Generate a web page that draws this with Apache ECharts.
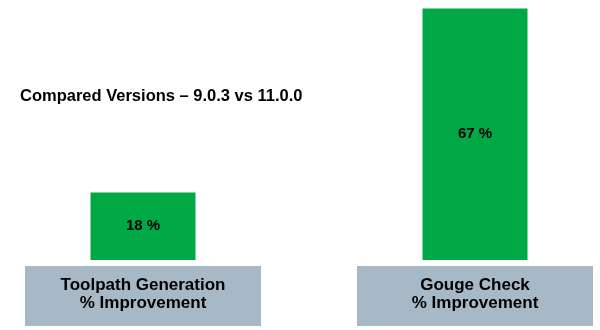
<!DOCTYPE html>
<html>
<head>
<meta charset="utf-8">
<script src="https://cdn.jsdelivr.net/npm/echarts@6/dist/echarts.min.js"></script>
<style>
  html, body { margin: 0; padding: 0; background: #fff; }
  #chart { width: 600px; height: 330px; }
</style>
</head>
<body>
<div id="chart"></div>
<script>
const titleText = 'Compared Versions \u2013 9.0.3 vs 11.0.0';
const categories = ['Toolpath Generation\n% Improvement', 'Gouge Check\n% Improvement'];
const improvement = [18, 67];

const FONT = '"Liberation Sans", Arial, sans-serif';
const chart = echarts.init(document.getElementById('chart'), null, { renderer: 'canvas' });
chart.setOption({
  animation: false,
  backgroundColor: '#ffffff',
  title: {
    text: titleText,
    left: 20,
    top: 88,
    padding: 0,
    textStyle: { fontFamily: FONT, fontSize: 16.5, fontWeight: 'bold', color: '#000' }
  },
  grid: { left: 143, right: 125, top: 1, bottom: 70, containLabel: false },
  xAxis: {
    type: 'category',
    data: categories,
    boundaryGap: false,
    axisLine: { show: false },
    axisTick: { show: false },
    splitLine: { show: false },
    axisLabel: {
      interval: 0,
      margin: 6,
      fontFamily: FONT,
      fontSize: 17,
      fontWeight: 'bold',
      color: '#000',
      lineHeight: 18,
      align: 'center',
      width: 236,
      backgroundColor: '#a7b8c6',
      padding: [10, 0, 14, 0]
    }
  },
  yAxis: {
    type: 'value',
    min: 0,
    max: 69,
    show: false,
    splitLine: { show: false }
  },
  series: [{
    type: 'bar',
    data: improvement,
    barWidth: 105,
    clip: false,
    itemStyle: { color: '#00a846' },
    label: {
      show: true,
      position: 'inside',
      formatter: '{c} %',
      fontFamily: FONT,
      fontSize: 15,
      fontWeight: 'bold',
      color: '#000'
    }
  }]
});
</script>
</body>
</html>
